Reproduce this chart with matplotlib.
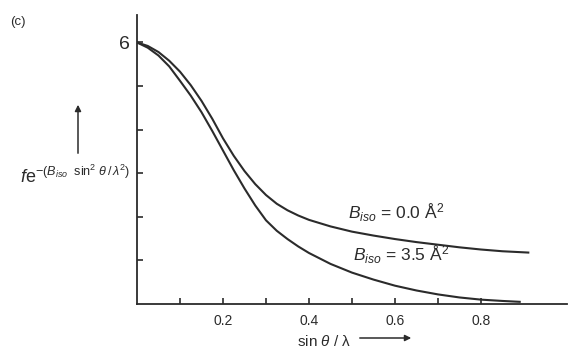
import matplotlib
matplotlib.use("Agg")
import matplotlib.pyplot as plt
import matplotlib.patches as patches

plt.rcParams['font.family'] = ['Liberation Sans', 'DejaVu Sans']
plt.rcParams['mathtext.fontset'] = 'custom'
plt.rcParams['mathtext.rm'] = 'Liberation Sans'
plt.rcParams['mathtext.it'] = 'Liberation Sans:italic'

# values
s_b0 = [0.000, 0.025, 0.050, 0.075, 0.100, 0.125, 0.150, 0.175, 0.200,
        0.225, 0.250, 0.275, 0.300, 0.325, 0.350, 0.375, 0.400, 0.450,
        0.500, 0.550, 0.600, 0.650, 0.700, 0.750, 0.800, 0.850, 0.910]
f_b0 = [6.00, 5.92, 5.78, 5.58, 5.33, 5.02, 4.66, 4.25, 3.80,
        3.40, 3.05, 2.75, 2.50, 2.30, 2.15, 2.03, 1.93, 1.78,
        1.66, 1.57, 1.49, 1.42, 1.36, 1.30, 1.25, 1.21, 1.18]
s_b35 = [0.000, 0.025, 0.050, 0.075, 0.100, 0.125, 0.150, 0.175, 0.200,
         0.225, 0.250, 0.275, 0.300, 0.325, 0.350, 0.375, 0.400, 0.450,
         0.500, 0.550, 0.600, 0.650, 0.700, 0.750, 0.800, 0.850, 0.890]
f_b35 = [6.00, 5.88, 5.70, 5.45, 5.12, 4.78, 4.40, 3.97, 3.52,
         3.07, 2.65, 2.26, 1.92, 1.68, 1.49, 1.32, 1.17, 0.92,
         0.72, 0.56, 0.42, 0.31, 0.22, 0.15, 0.10, 0.07, 0.05]
x_ticks = [0.1, 0.2, 0.3, 0.4, 0.5, 0.6, 0.7, 0.8]
x_labels = ['', '0.2', '', '0.4', '', '0.6', '', '0.8']
y_ticks = [1, 2, 3, 4, 5, 6]
y_labels = ['', '', '', '', '', '6']

ink = '#2b2b2b'
W, H = 575, 358

fig = plt.figure(figsize=(W / 100, H / 100), dpi=100)
ax = fig.add_axes([137 / W, 54 / H, 430 / W, 289 / H])
ax.plot(s_b0, f_b0, color=ink, lw=1.5, solid_joinstyle='round')
ax.plot(s_b35, f_b35, color=ink, lw=1.5, solid_joinstyle='round')

ax.set_xlim(0, 1.0)
ax.set_ylim(0, 6.63)
for side in ['top', 'right']:
    ax.spines[side].set_visible(False)
for side in ['left', 'bottom']:
    ax.spines[side].set_linewidth(1.3)
    ax.spines[side].set_color(ink)

ax.set_xticks(x_ticks)
ax.set_xticklabels(x_labels)
ax.set_yticks(y_ticks)
ax.set_yticklabels(y_labels)
ax.tick_params(axis='x', direction='in', length=4, width=1.2, color=ink,
               labelsize=10, labelcolor=ink, pad=7)
ax.tick_params(axis='y', direction='in', length=4, width=1.2, color=ink,
               labelsize=14, labelcolor=ink, pad=5)

# curve labels
ax.text(0.49, 1.95, r'$B_{iso}$ = 0.0 Å$^2$', fontsize=12.5, color=ink)
ax.text(0.503, 0.98, r'$B_{iso}$ = 3.5 Å$^2$', fontsize=12.5, color=ink)

# panel letter and axis captions
fig.text(10 / W, 1 - 22 / H, '(c)', fontsize=9.5, color=ink, va='center')
fig.text(20 / W, 1 - 183 / H,
         r'$f\mathrm{e}^{-(B_{iso}\ \ \mathrm{sin}^2\ \theta\,/\,\lambda^2)}$',
         fontsize=13, color=ink, va='baseline')
fig.text(297 / W, 1 - 341 / H, r'sin $\theta$ / λ', fontsize=11,
         color=ink, va='center')

# arrows
fig.add_artist(patches.FancyArrowPatch(
    (78 / W, 1 - 156 / H), (78 / W, 1 - 102 / H), transform=fig.transFigure,
    arrowstyle='-|>', mutation_scale=9, color=ink, lw=1.1))
fig.add_artist(patches.FancyArrowPatch(
    (357 / W, 1 - 338 / H), (414 / W, 1 - 338 / H), transform=fig.transFigure,
    arrowstyle='-|>', mutation_scale=9, color=ink, lw=1.1))

fig.savefig('out.png', dpi=100)
